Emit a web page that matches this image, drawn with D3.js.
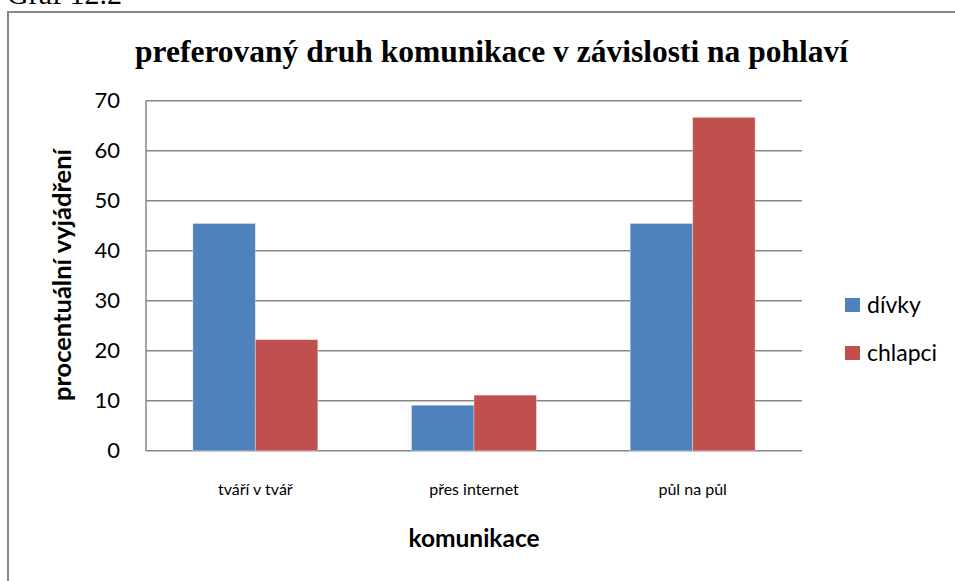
<!DOCTYPE html>
<html lang="cs">
<head>
    <meta charset="UTF-8">
    <title>Graf 12.2</title>
    <style>
        body, html {
          margin: 0;
          width: 100%;
          height: 100%;
          background: #fff;
          overflow: hidden;
        }

        svg {
          display: block;
        }

        .grid line {
            stroke: #868686;
            stroke-width: 1.5px;
        }

        .tick-label {
            font-family: Lato, "Open Sans", sans-serif;
            fill: #000;
        }
    </style>
</head>
<body>
    <svg width="955" height="581"></svg>

    <script src="https://d3js.org/d3.v7.min.js"></script>
    <script>

        const categories = ["tváří v tvář", "přes internet", "půl na půl"];
        const seriesNames = ["dívky", "chlapci"];
        const divky = [45.45, 9.09, 45.45];
        const chlapci = [22.22, 11.11, 66.67];
        const yTicks = [0, 10, 20, 30, 40, 50, 60, 70];
        const colors = ["#4F81BD", "#C0504D"];

        const svg = d3.select("svg");

        // plocha grafu
        const plotLeft = 146, plotRight = 802, plotTop = 100.7, plotBottom = 450.7;

        const x = d3.scaleBand()
                    .domain(categories)
                    .range([plotLeft, plotRight]);

        // 150% mezera mezi skupinami jako v Excelu
        const inner = d3.scaleBand()
                        .domain(seriesNames)
                        .range([0, x.bandwidth()])
                        .paddingOuter(0.75)
                        .paddingInner(0);

        const y = d3.scaleLinear()
                    .domain([0, 70])
                    .range([plotBottom, plotTop]);

        // ramecek
        svg.append("rect")
           .attr("x", 8)
           .attr("y", 12)
           .attr("width", 1000)
           .attr("height", 700)
           .attr("fill", "none")
           .attr("stroke", "#878787")
           .attr("stroke-width", 2);

        svg.append("text")
           .attr("x", 7)
           .attr("y", 4)
           .attr("font-family", "'Liberation Serif', 'Times New Roman', serif")
           .attr("font-size", 30)
           .text("Graf 12.2");

        svg.append("text")
           .attr("x", 491.5)
           .attr("y", 62)
           .attr("text-anchor", "middle")
           .attr("font-family", "'Liberation Serif', 'Times New Roman', serif")
           .attr("font-weight", "bold")
           .attr("font-size", 31.5)
           .text("preferovaný druh komunikace v závislosti na pohlaví");

        // mrizka
        svg.append("g")
           .attr("class", "grid")
           .selectAll("line")
           .data(yTicks)
           .enter().append("line")
           .attr("x1", plotLeft)
           .attr("x2", plotRight)
           .attr("y1", d => y(d))
           .attr("y2", d => y(d));

        svg.append("line")
           .attr("x1", plotLeft).attr("x2", plotLeft)
           .attr("y1", plotTop).attr("y2", plotBottom)
           .attr("stroke", "#868686")
           .attr("stroke-width", 1.5);

        // popisky osy y
        svg.append("g")
           .selectAll("text")
           .data(yTicks)
           .enter().append("text")
           .attr("class", "tick-label")
           .attr("x", 120)
           .attr("y", d => y(d))
           .attr("dy", "0.35em")
           .attr("text-anchor", "end")
           .attr("font-size", 22)
           .text(d => d);

        // sloupce
        const series = [divky, chlapci];
        series.forEach(function(vals, si) {
            svg.append("g")
               .selectAll("rect")
               .data(vals)
               .enter().append("rect")
               .attr("x", (d, i) => x(categories[i]) + inner(seriesNames[si]))
               .attr("y", d => y(d))
               .attr("width", inner.bandwidth())
               .attr("height", d => plotBottom - y(d))
               .attr("fill", colors[si])
               .attr("stroke", "rgba(255,255,255,0.35)")
               .attr("stroke-width", 1);
        });

        // popisky kategorii
        svg.append("g")
           .selectAll("text")
           .data(categories)
           .enter().append("text")
           .attr("class", "tick-label")
           .attr("x", d => x(d) + x.bandwidth() / 2)
           .attr("y", 495)
           .attr("text-anchor", "middle")
           .attr("font-size", 16)
           .text(d => d);

        svg.append("text")
           .attr("class", "tick-label")
           .attr("x", 474)
           .attr("y", 547)
           .attr("text-anchor", "middle")
           .attr("font-weight", "bold")
           .attr("font-size", 24.5)
           .text("komunikace");

        svg.append("text")
           .attr("class", "tick-label")
           .attr("transform", "translate(62,275) rotate(-90)")
           .attr("dy", "0.35em")
           .attr("text-anchor", "middle")
           .attr("font-weight", "bold")
           .attr("font-size", 25.5)
           .text("procentuální vyjádření");

        // legenda
        const legend = svg.append("g")
                          .selectAll("g")
                          .data(seriesNames)
                          .enter().append("g")
                          .attr("transform", (d, i) => `translate(845,${298 + i * 48})`);

        legend.append("rect")
              .attr("width", 15)
              .attr("height", 14)
              .attr("fill", (d, i) => colors[i]);

        legend.append("text")
              .attr("class", "tick-label")
              .attr("x", 22)
              .attr("y", 7)
              .attr("dy", "0.35em")
              .attr("font-size", 23)
              .text(d => d);

    </script>
</body>
</html>
